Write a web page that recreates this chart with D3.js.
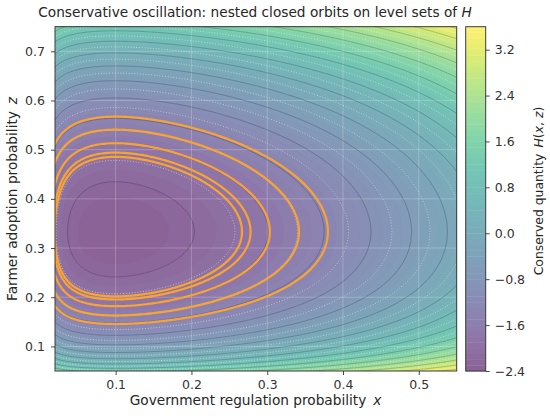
<!DOCTYPE html>
<html>
<head>
<meta charset="utf-8">
<script src="https://cdn.jsdelivr.net/npm/d3@7"></script>
<style>
  html, body { margin: 0; padding: 0; background: #ffffff; }
  svg { display: block; font-family: "DejaVu Sans", sans-serif; }
</style>
</head>
<body>
<svg id="chart" width="550" height="416"></svg>
<script>
// ---------------- data ----------------
const xDomain = [0.02, 0.55];          // government regulation probability x
const zDomain = [0.05, 0.75];          // farmer adoption probability z
const equilibrium = [0.10, 1 / 3];     // centre of the closed orbits (x*, z*)
const weights = [5.1, 9.3];            // curvature weights of H in x and z
const hMinMax = [-2.4, 3.6];           // colour range of H
const bandStep = [0.1];                // filled-contour band width
const lineLevels = d3.range(-2.2, 3.5, 0.2);        // thin contour lines
const orbitLevels = [-1.37, -1.59, -1.79, -1.91, -1.96];  // orange orbits
const xTicks = [0.1, 0.2, 0.3, 0.4, 0.5];
const zTicks = [0.1, 0.2, 0.3, 0.4, 0.5, 0.6, 0.7];
const cbTicks = [-2.4, -1.6, -0.8, 0.0, 0.8, 1.6, 2.4, 3.2];

// ---------------- layout ----------------
const svg = d3.select("#chart");
const M = { left: 55, right: 456.7, top: 26.7, bottom: 371 };
const CB = { left: 465.7, right: 485.7 };
const xScale = d3.scaleLinear().domain(xDomain).range([M.left, M.right]);
const zScale = d3.scaleLinear().domain(zDomain).range([M.bottom, M.top]);
const cScale = d3.scaleLinear().domain(hMinMax).range([M.bottom, M.top]);

const alphaFill = 0.62;
const colorOf = v => d3.interpolateRgb("#ffffff",
  d3.interpolateViridis((v - hMinMax[0]) / (hMinMax[1] - hMinMax[0])))(alphaFill);

// conserved quantity H(x,z)
const [xs, zs] = equilibrium;
const g = x => -(xs * Math.log(x) + (1 - xs) * Math.log(1 - x));
const h = z => -(zs * Math.log(z) + (1 - zs) * Math.log(1 - z));
const H = (x, z) => hMinMax[0] + weights[0] * (g(x) - g(xs)) + weights[1] * (h(z) - h(zs));

// sampling grid (extended beyond the plot, then clipped)
const ext = [0.003, 0.6, 0.012, 0.8]; // x0,x1,z0,z1
const nx = 330, ny = 300;
const values = new Float64Array(nx * ny);
for (let j = 0; j < ny; j++) {
  const z = ext[3] - (j + 0.5) / ny * (ext[3] - ext[2]);
  for (let i = 0; i < nx; i++) {
    const x = ext[0] + (i + 0.5) / nx * (ext[1] - ext[0]);
    values[j * nx + i] = H(x, z);
  }
}
const proj = d3.geoTransform({
  point: function (gx, gy) {
    const x = ext[0] + gx / nx * (ext[1] - ext[0]);
    const z = ext[3] - gy / ny * (ext[3] - ext[2]);
    this.stream.point(xScale(x), zScale(z));
  }
});
const pathGen = d3.geoPath(proj);
const contours = d3.contours().size([nx, ny]);

svg.append("clipPath").attr("id", "plotclip")
  .append("rect").attr("x", M.left).attr("y", M.top)
  .attr("width", M.right - M.left).attr("height", M.bottom - M.top);

const plot = svg.append("g").attr("clip-path", "url(#plotclip)");

// filled bands
const bandLevels = d3.range(hMinMax[0], hMinMax[1] - 1e-9, bandStep[0]);
plot.append("rect").attr("x", M.left).attr("y", M.top)
  .attr("width", M.right - M.left).attr("height", M.bottom - M.top)
  .attr("fill", colorOf(hMinMax[0] + bandStep[0] / 2));
plot.append("g").selectAll("path")
  .data(contours.thresholds(bandLevels.slice(1))(values))
  .join("path")
  .attr("d", pathGen)
  .attr("fill", d => colorOf(Math.min(d.value + bandStep[0] / 2, hMinMax[1])))
  .attr("stroke", d => colorOf(Math.min(d.value + bandStep[0] / 2, hMinMax[1])))
  .attr("stroke-width", 0.3);

// grid
const grid = plot.append("g").attr("stroke", "#ffffff").attr("stroke-opacity", 0.28).attr("stroke-width", 0.8);
grid.selectAll("line.gx").data(xTicks).join("line")
  .attr("x1", d => xScale(d)).attr("x2", d => xScale(d))
  .attr("y1", M.top).attr("y2", M.bottom);
grid.selectAll("line.gz").data(zTicks).join("line")
  .attr("y1", d => zScale(d)).attr("y2", d => zScale(d))
  .attr("x1", M.left).attr("x2", M.right);

// thin contour lines: alternate dark solid / white dotted
plot.append("g").attr("fill", "none").selectAll("path")
  .data(contours.thresholds(lineLevels)(values))
  .join("path")
  .attr("d", pathGen)
  .each(function (d, i) {
    const s = d3.select(this);
    if (i % 2 === 0) {
      s.attr("stroke", "#1e1830").attr("stroke-opacity", 0.28).attr("stroke-width", 0.8);
    } else {
      s.attr("stroke", "#ffffff").attr("stroke-opacity", 0.55).attr("stroke-width", 0.9)
        .attr("stroke-dasharray", "1,1.8");
    }
  });

// orbits
plot.append("g").attr("fill", "none").selectAll("path")
  .data(contours.thresholds(orbitLevels)(values))
  .join("path")
  .attr("d", pathGen)
  .attr("stroke", "#f9a431")
  .attr("stroke-width", 2.2);

// frame
svg.append("rect").attr("x", M.left).attr("y", M.top)
  .attr("width", M.right - M.left).attr("height", M.bottom - M.top)
  .attr("fill", "none").attr("stroke", "#3a3a3a").attr("stroke-width", 1);

// axes
const axisStyle = g => {
  g.select(".domain").remove();
  g.selectAll(".tick line").attr("stroke", "#333333").attr("stroke-width", 0.9);
  g.selectAll(".tick text").attr("fill", "#333333").attr("font-size", 12.5)
    .attr("font-family", "DejaVu Sans, sans-serif");
};
svg.append("g").attr("transform", `translate(0,${M.bottom})`)
  .call(d3.axisBottom(xScale).tickValues(xTicks).tickFormat(d3.format(".1f")).tickSize(4).tickPadding(5))
  .call(axisStyle);
svg.append("g").attr("transform", `translate(${M.left},0)`)
  .call(d3.axisLeft(zScale).tickValues(zTicks).tickFormat(d3.format(".1f")).tickSize(4).tickPadding(6))
  .call(axisStyle);

// colorbar
const cb = svg.append("g");
cb.selectAll("rect").data(bandLevels).join("rect")
  .attr("x", CB.left).attr("width", CB.right - CB.left)
  .attr("y", d => cScale(d + bandStep[0]))
  .attr("height", d => cScale(d) - cScale(d + bandStep[0]) + 0.4)
  .attr("fill", d => colorOf(d + bandStep[0] / 2));
cb.append("rect").attr("x", CB.left).attr("y", M.top)
  .attr("width", CB.right - CB.left).attr("height", M.bottom - M.top)
  .attr("fill", "none").attr("stroke", "#3a3a3a").attr("stroke-width", 1);
svg.append("g").attr("transform", `translate(${CB.right},0)`)
  .call(d3.axisRight(cScale).tickValues(cbTicks).tickFormat(d3.format(".1f")).tickSize(4).tickPadding(5))
  .call(axisStyle);

// texts
const title = svg.append("text").attr("x", 255).attr("y", 16.5).attr("text-anchor", "middle")
  .attr("font-size", 13.7).attr("fill", "#262626");
title.append("tspan").text("Conservative oscillation: nested closed orbits on level sets of ");
title.append("tspan").attr("font-style", "italic").text("H");

const xl = svg.append("text").attr("x", 255.5).attr("y", 405).attr("text-anchor", "middle")
  .attr("font-size", 13.7).attr("fill", "#262626");
xl.append("tspan").text("Government regulation probability\u2002");
xl.append("tspan").attr("font-style", "italic").text("x");

const yl = svg.append("text").attr("transform", "translate(16.5,199) rotate(-90)").attr("text-anchor", "middle")
  .attr("font-size", 13.7).attr("fill", "#262626");
yl.append("tspan").text("Farmer adoption probability\u2002");
yl.append("tspan").attr("font-style", "italic").text("z");

const cl = svg.append("text").attr("transform", "translate(543,191) rotate(-90)").attr("text-anchor", "middle")
  .attr("font-size", 12.4).attr("fill", "#262626");
cl.append("tspan").text("Conserved quantity\u2002");
cl.append("tspan").attr("font-style", "italic").text("H");
cl.append("tspan").text("(");
cl.append("tspan").attr("font-style", "italic").text("x");
cl.append("tspan").text(", ");
cl.append("tspan").attr("font-style", "italic").text("z");
cl.append("tspan").text(")");
</script>
</body>
</html>
